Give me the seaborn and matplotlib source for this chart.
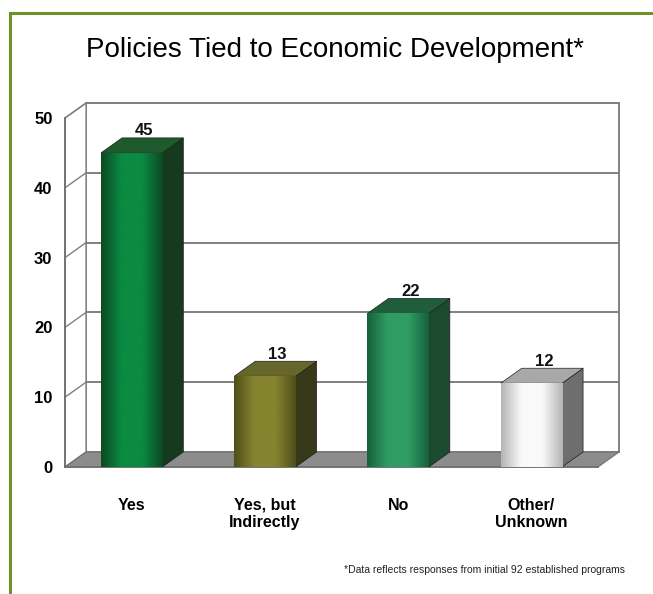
import numpy as np
import pandas as pd
import seaborn as sns
import matplotlib.pyplot as plt
from matplotlib.patches import Polygon, Rectangle
from matplotlib.colors import LinearSegmentedColormap

# data
categories = ['Yes', 'Yes, but\nIndirectly', 'No', 'Other/\nUnknown']
counts = [45, 13, 22, 12]
title = 'Policies Tied to Economic Development*'
footnote = '*Data reflects responses from initial 92 established programs'
yticks = [0, 10, 20, 30, 40, 50]

# face colours per bar: (dark edge, light centre, top, side)
front_dark = ['#0b4a22', '#4e4e1a', '#17603a', '#b4b4b4']
front_light = ['#0c8a42', '#85852f', '#2f9d64', '#fafafa']
top_cols = ['#1f5a2c', '#66662a', '#1f5e3b', '#a8a8a8']
side_cols = ['#163a1e', '#38381a', '#1b4a2f', '#6e6e6e']

DX, DY = 0.158, 2.15   # depth of the fake 3d box (data units)
GRID = '#808080'

sns.set_style('white')
plt.rcParams['font.family'] = ['Liberation Sans', 'DejaVu Sans']
plt.rcParams['text.color'] = 'black'
plt.rcParams['xtick.labelcolor'] = 'black'
plt.rcParams['ytick.labelcolor'] = 'black'

fig = plt.figure(figsize=(6.53, 5.94), dpi=100)
ax = fig.add_axes([65/653, 127/594, 533/653, 349/594])

df = pd.DataFrame({'cat': categories, 'n': counts})
sns.barplot(data=df, x='cat', y='n', hue='cat', palette=front_light, order=categories,
            width=0.46, saturation=1, legend=False, ax=ax)
bars = list(ax.patches)

ax.set_xlim(-0.5, 3.5)
ax.set_ylim(0, 50)

# back wall, left wall, floor
ax.add_patch(Rectangle((-0.5 + DX, DY), 4, 50, facecolor='white', edgecolor=GRID,
                       lw=1.4, clip_on=False, zorder=0))
ax.add_patch(Polygon([(-0.5, 0), (-0.5 + DX, DY), (-0.5 + DX, 50 + DY), (-0.5, 50)],
                     facecolor='white', edgecolor=GRID, lw=1.0, clip_on=False, zorder=0.2))
for y in yticks[1:]:
    ax.plot([-0.5 + DX, 3.5 + DX], [y + DY, y + DY], color=GRID, lw=1.4, clip_on=False, zorder=0.5)
    ax.plot([-0.5, -0.5 + DX], [y, y + DY], color=GRID, lw=1.0, clip_on=False, zorder=0.5)
ax.add_patch(Polygon([(-0.5, 0), (3.5, 0), (3.5 + DX, DY), (-0.5 + DX, DY)],
                     facecolor='#8c8c8c', edgecolor='#707070', lw=0.8, clip_on=False, zorder=1))

for i, (p, v) in enumerate(zip(bars, counts)):
    x0, w, h = p.get_x(), p.get_width(), p.get_height()
    p.set_zorder(3)
    p.set_edgecolor('#1e1e1e')
    p.set_linewidth(0.5)
    cmap = LinearSegmentedColormap.from_list(
        'g%d' % i, [front_dark[i], front_light[i], front_light[i], front_dark[i]])
    grad = np.linspace(0, 1, 256).reshape(1, -1)
    im = ax.imshow(grad, extent=[x0, x0 + w, 0, h], aspect='auto', cmap=cmap,
                   interpolation='bicubic', zorder=3.1)
    im.set_clip_path(p)
    ax.add_patch(Polygon([(x0 + w, 0), (x0 + w + DX, DY), (x0 + w + DX, h + DY), (x0 + w, h)],
                         facecolor=side_cols[i], edgecolor='#1e1e1e', lw=0.5, zorder=3, clip_on=False))
    ax.add_patch(Polygon([(x0, h), (x0 + w, h), (x0 + w + DX, h + DY), (x0 + DX, h + DY)],
                         facecolor=top_cols[i], edgecolor='#1e1e1e', lw=0.5, zorder=3, clip_on=False))
    ax.text(x0 + w / 2 + DX * 0.6, h + DY - 0.05, str(v), ha='center', va='bottom',
            fontsize=12, fontweight='bold', color='#111111', zorder=5)

ax.set_xlim(-0.5, 3.5)
ax.set_ylim(0, 50)
ax.set_xlabel('')
ax.set_ylabel('')
for s in ['top', 'right']:
    ax.spines[s].set_visible(False)
for s in ['left', 'bottom']:
    ax.spines[s].set_color('#707070')
    ax.spines[s].set_linewidth(1.3)
    ax.spines[s].set_zorder(2)
ax.set_yticks(yticks)
ax.tick_params(axis='y', length=6, width=1.2, color='#707070', pad=3, labelsize=12)
ax.set_xticks(range(len(categories)))
ax.set_xticklabels(categories, fontsize=11.5, fontweight='bold')
ax.set_xticks([0.5, 1.5, 2.5, 3.5], minor=True)
ax.tick_params(axis='x', which='major', length=0, pad=22)
ax.tick_params(axis='x', which='minor', length=5, width=1.2, color='#707070')
for t in ax.get_yticklabels():
    t.set_fontweight('bold')
for t in ax.get_xticklabels():
    t.set_linespacing(1.2)

fig.text(335/653, 1 - 50/594, title, ha='center', va='center', fontsize=20, color='black')
fig.text(625/653, 1 - 570/594, footnote, ha='right', va='center', fontsize=7.5, color='#222222')
fig.add_artist(Rectangle((10/653, -0.05), 1.0, 0.05 + (594 - 13)/594, transform=fig.transFigure,
                         fill=False, edgecolor='#6f9228', lw=2.2))

fig.savefig('out.png', dpi=100)
